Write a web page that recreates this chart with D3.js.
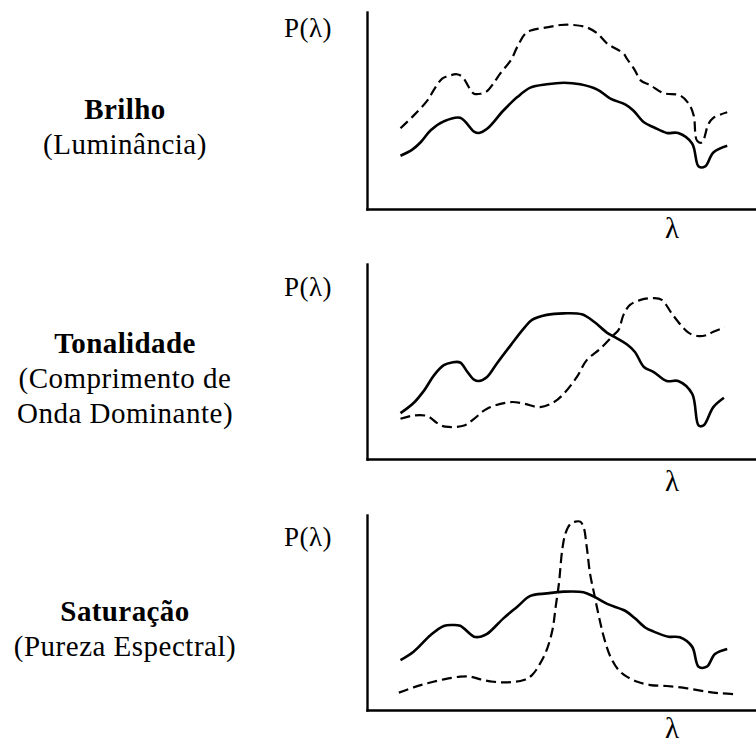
<!DOCTYPE html>
<html>
<head>
<meta charset="utf-8">
<script src="https://cdn.jsdelivr.net/npm/d3@7"></script>
<style>
  html, body { margin: 0; padding: 0; background: #fff; }
  svg { display: block; }
</style>
</head>
<body>
<svg id="chart" width="756" height="745" font-family="'Liberation Serif', 'Times New Roman', 'DejaVu Serif', serif"></svg>
<script>
// ---------- data ----------
const categories = ["Brilho", "Tonalidade", "Saturação"];
const subtitles = [["(Luminância)"], ["(Comprimento de", "Onda Dominante)"], ["(Pureza Espectral)"]];
const yAxisLabel = "P(λ)";
const xAxisLabel = "λ";

// [wavelength (nm), relative power]
const brilhoRef = [[380,0.27],[394,0.30],[405,0.34],[417,0.40],[433,0.445],[453,0.463],[470,0.393],[476,0.386],[486,0.407],[506,0.50],[523,0.568],[539,0.616],[559,0.633],[580,0.641],[600,0.633],[621,0.606],[637,0.56],[655,0.531],[665,0.50],[678,0.44],[690,0.415],[706,0.386],[720,0.386],[737,0.333],[745,0.216],[753,0.216],[763,0.287],[780,0.321]];
const brilhoAlt = [[380,0.41],[396,0.474],[413,0.551],[421,0.606],[431,0.662],[437,0.673],[449,0.684],[456,0.67],[464,0.616],[470,0.585],[478,0.585],[486,0.598],[494,0.639],[502,0.687],[515,0.755],[523,0.823],[533,0.891],[541,0.908],[559,0.922],[576,0.934],[592,0.934],[608,0.922],[621,0.891],[633,0.84],[653,0.789],[657,0.764],[667,0.704],[674,0.653],[686,0.628],[702,0.588],[722,0.577],[733,0.534],[739,0.474],[743,0.347],[749,0.338],[757,0.432],[763,0.463],[780,0.491]];

const tonalidadeRef = [[380,0.235],[396,0.287],[409,0.352],[421,0.429],[433,0.481],[443,0.495],[453,0.495],[462,0.446],[470,0.407],[476,0.40],[486,0.421],[498,0.49],[515,0.584],[531,0.67],[541,0.713],[559,0.739],[580,0.747],[602,0.742],[617,0.704],[633,0.647],[645,0.619],[657,0.588],[667,0.549],[678,0.472],[690,0.446],[706,0.40],[720,0.40],[737,0.335],[745,0.172],[751,0.172],[763,0.266],[776,0.314]];
const tonalidadeAlt = [[380,0.206],[396,0.223],[413,0.22],[425,0.184],[435,0.166],[458,0.172],[470,0.206],[486,0.258],[515,0.292],[531,0.284],[551,0.266],[568,0.292],[580,0.335],[596,0.421],[608,0.507],[625,0.567],[641,0.636],[647,0.662],[653,0.739],[661,0.79],[674,0.816],[690,0.825],[700,0.816],[712,0.747],[725,0.678],[733,0.647],[745,0.63],[755,0.636],[763,0.653],[777,0.675]];

const saturacaoRef = [[380,0.256],[396,0.299],[417,0.385],[433,0.431],[443,0.436],[453,0.432],[470,0.376],[478,0.376],[486,0.39],[506,0.47],[523,0.53],[539,0.585],[559,0.598],[580,0.607],[604,0.604],[617,0.581],[633,0.544],[655,0.509],[667,0.47],[680,0.422],[690,0.402],[708,0.376],[722,0.373],[737,0.325],[745,0.222],[755,0.222],[765,0.287],[780,0.313]];
const saturacaoAlt = [[378,0.089],[396,0.116],[413,0.137],[433,0.157],[453,0.171],[466,0.171],[478,0.157],[494,0.145],[511,0.142],[531,0.154],[541,0.179],[551,0.239],[559,0.308],[566,0.41],[570,0.53],[574,0.65],[578,0.821],[582,0.906],[588,0.954],[594,0.966],[600,0.966],[604,0.94],[608,0.837],[612,0.701],[617,0.598],[623,0.478],[629,0.373],[637,0.273],[647,0.205],[657,0.171],[670,0.145],[686,0.128],[706,0.123],[731,0.111],[755,0.094],[771,0.086],[790,0.081]];

const refSeries = [brilhoRef, tonalidadeRef, saturacaoRef];
const altSeries = [brilhoAlt, tonalidadeAlt, saturacaoAlt];

// ---------- layout ----------
const panelTop = [12, 264, 515];
const panelBottom = [209, 459, 710];
const pLabelBaseline = [37, 296, 546];
const lambdaBaseline = [238, 491, 738];
const titleBaseline = [119, 353, 621];

const svg = d3.select("#chart");
const x = d3.scaleLinear().domain([339, 814]).range([367, 755]);

const line = d3.line()
  .x(d => x(d[0]))
  .curve(d3.curveCatmullRom.alpha(0.5));

categories.forEach((cat, i) => {
  const y = d3.scaleLinear().domain([0, 1]).range([panelBottom[i], panelTop[i]]);
  const g = svg.append("g");

  // axes (no ticks)
  const xAxis = g.append("g")
    .attr("transform", `translate(0,${panelBottom[i]})`)
    .call(d3.axisBottom(x).tickValues([]).tickSizeOuter(0));
  const yAxis = g.append("g")
    .attr("transform", `translate(${x.range()[0]},0)`)
    .call(d3.axisLeft(y).tickValues([]).tickSizeOuter(0));
  [xAxis, yAxis].forEach(a => a.select(".domain")
    .attr("stroke", "#000").attr("stroke-width", 2.4).attr("stroke-linecap", "square"));

  // curves
  line.y(d => y(d[1]));
  g.append("path").datum(refSeries[i])
    .attr("d", line).attr("fill", "none").attr("stroke", "#000")
    .attr("stroke-width", 2.6).attr("stroke-linejoin", "round");
  g.append("path").datum(altSeries[i])
    .attr("d", line).attr("fill", "none").attr("stroke", "#000")
    .attr("stroke-width", 2.2).attr("stroke-dasharray", "10,5");

  // labels
  const txt = (sel) => sel.attr("font-family", "'Liberation Serif', 'Times New Roman', serif").attr("fill", "#000");
  g.append("text").call(txt).attr("x", 284).attr("y", pLabelBaseline[i])
    .attr("font-size", 27).attr("letter-spacing", 0.5).text(yAxisLabel);
  g.append("text").call(txt).attr("x", 672).attr("y", lambdaBaseline[i])
    .attr("text-anchor", "middle").attr("font-size", 29).text(xAxisLabel);

  g.append("text").call(txt).attr("x", 125).attr("y", titleBaseline[i])
    .attr("text-anchor", "middle").attr("font-size", 29).attr("font-weight", "bold")
    .attr("letter-spacing", 0.4).text(cat);
  subtitles[i].forEach((s, k) => {
    g.append("text").call(txt).attr("x", 125).attr("y", titleBaseline[i] + 35 * (k + 1))
      .attr("text-anchor", "middle").attr("font-size", 29).attr("letter-spacing", 0.5).text(s);
  });
});
</script>
</body>
</html>
